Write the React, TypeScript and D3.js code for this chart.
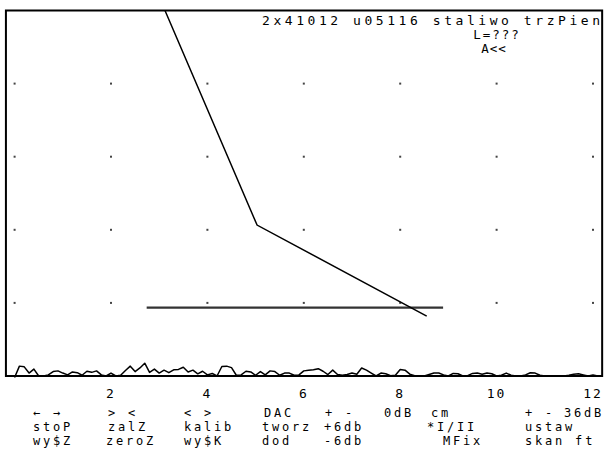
import React, { useEffect, useRef } from "react";
import * as d3 from "d3";

// chart values
const xTicks = [2, 4, 6, 8, 10, 12];
const gridX = [0, 2, 4, 6, 8, 10, 12];
const gridY = [20, 40, 60, 80];
const dacX = [3.12, 5.03, 8.55];
const dacY = [100, 41.3, 16.4];
const gateX = [2.74, 8.89];
const gateY = 18.7;
// echo noise, one sample every 0.1 unit from x = 0
const noise = [
	-0.4, 2.7, 2.5, 0.8, 1.9, 0, 0, 0.3, 1.2, 1.4, 0.8, 0.3, 1.1, 0.9, 0.2, 1.3,
	1.0, 1.4, 0.3, 0, 0.8, 0, 0.2, 1.5, 2.7, 1.2, 2.2, 3.5, 1.0, 1.9, 0.8, 1.6,
	0.9, 1.7, 1.8, 2.4, 1.1, 1.6, 0.6, 1.3, 0.3, 0.7, 0, 2.6, 2.7, 2.3, 0.2, 0.3,
	1.3, 1.1, 0.2, 1.2, 0.3, 1.4, 1.2, 0.2, 0.8, 0.8, 0.2, 0.3, 1.4, 1.6, 1.7,
	2.0, 1.3, 0.4, 1.6, 0.4, 0.2, 0.4, 0.8, 0.5, 2.2, 1.6, 0.8, 0, 0.8, 0.6, 0.1,
	0.2, 1.8, 1.6, 0.5, 0.1, 0, 0, 0.4, 0.8, 0.8, 0.3, 0, 0.7, 0.6, 0, 0.1, 0.7,
	0.8, 0.5, 0.8, 0.6, 0, 0.2, 0.8, 0.2, 0, 0, 0.3, 0.9, 0.8, 0.2, 0, 0, 0, 0.1,
	0, 0.2, 0.5, 0.6, 0.3, 0, 0.3, 0
];
const titleLines = ["2x41012 u05116 staliwo trzPien", "L=???", "A<<"];
// bottom menu: [text, left x, row]
const menuItems: [string, number, number][] = [
	["← →", 33, 0], ["stoP", 33, 1], ["wy$Z", 33, 2],
	["> <", 108, 0], ["zalZ", 108, 1], ["zeroZ", 106, 2],
	["< >", 184, 0], ["kalib", 184, 1], ["wy$K", 184, 2],
	["DAC", 264, 0], ["tworz", 262, 1], ["dod", 262, 2],
	["+ -", 325, 0], ["+6db", 324, 1], ["-6db", 324, 2],
	["0dB", 384, 0], ["cm", 431, 0], ["*I/II", 427, 1], ["MFix", 443, 2],
	["+ -", 525, 0], ["36dB", 564, 0], ["ustaw", 525, 1], ["skan  ft", 525, 2]
];

const W = 611;
const H = 459;
const FONT = "'DejaVu Sans Mono', 'Liberation Mono', monospace";

export default function App() {
	const ref = useRef<SVGSVGElement>(null);

	useEffect(() => {
		const svg = d3.select(ref.current);
		svg.selectAll("*").remove();

		const x = d3.scaleLinear().domain([0, 12]).range([14.6, 593]);
		const y = d3.scaleLinear().domain([0, 100]).range([376, 10.5]);
		const left = x(-0.18);
		const right = x(12.19);

		svg.append("rect").attr("width", W).attr("height", H).attr("fill", "#fff");

		svg.append("clipPath")
			.attr("id", "plotClip")
			.append("rect")
			.attr("x", left)
			.attr("y", y(100))
			.attr("width", right - left)
			.attr("height", y(0) - y(100) + 6);

		//grid dots
		gridY.forEach(gy =>
			svg.append("g")
				.selectAll("rect")
				.data(gridX)
				.join("rect")
				.attr("x", d => x(d) - 1)
				.attr("y", y(gy) - 1)
				.attr("width", 2)
				.attr("height", 2)
				.attr("fill", "#444")
		);

		//gate line
		svg.append("line")
			.attr("x1", x(gateX[0]))
			.attr("x2", x(gateX[1]))
			.attr("y1", y(gateY))
			.attr("y2", y(gateY))
			.attr("stroke", "#333")
			.attr("stroke-width", 2.2);

		//DAC curve
		const lineGen = d3.line<number>()
			.x((d, i) => x(dacX[i]))
			.y(d => y(d));
		svg.append("path")
			.attr("d", lineGen(dacY))
			.attr("clip-path", "url(#plotClip)")
			.attr("fill", "none")
			.attr("stroke", "#000")
			.attr("stroke-width", 1.5);

		//noise trace
		const noiseLine = d3.line<number>()
			.x((d, i) => x(i * 0.1))
			.y(d => y(d));
		svg.append("path")
			.attr("d", noiseLine(noise))
			.attr("fill", "none")
			.attr("stroke", "#000")
			.attr("stroke-width", 1.5)
			.attr("stroke-linejoin", "round");

		//frame
		svg.append("path")
			.attr("d", `M${left},${y(0)}V${y(100)}H${right}V${y(0)}Z`)
			.attr("fill", "none")
			.attr("stroke", "#000")
			.attr("stroke-width", 2);

		//title
		svg.append("text")
			.attr("x", 600)
			.attr("y", 25)
			.attr("text-anchor", "end")
			.attr("textLength", 338)
			.attr("lengthAdjust", "spacing")
			.attr("font-family", FONT)
			.attr("font-size", 13)
			.text(titleLines[0]);
		svg.append("text")
			.attr("x", 497)
			.attr("y", 39)
			.attr("text-anchor", "middle")
			.attr("letter-spacing", 2)
			.attr("font-family", FONT)
			.attr("font-size", 12.5)
			.text(titleLines[1]);
		svg.append("text")
			.attr("x", 494)
			.attr("y", 53)
			.attr("text-anchor", "middle")
			.attr("letter-spacing", 1)
			.attr("font-family", FONT)
			.attr("font-size", 12.5)
			.text(titleLines[2]);

		//x axis labels
		svg.append("g")
			.selectAll("text")
			.data(xTicks)
			.join("text")
			.attr("x", d => x(d))
			.attr("y", 398)
			.attr("text-anchor", "middle")
			.attr("letter-spacing", 2)
			.attr("font-family", FONT)
			.attr("font-size", 13)
			.text(d => d);

		//menu
		svg.append("g")
			.selectAll("text")
			.data(menuItems)
			.join("text")
			.attr("x", d => d[1])
			.attr("y", d => 417 + d[2] * 14)
			.attr("letter-spacing", 2.8)
			.attr("font-family", FONT)
			.attr("font-size", 12)
			.text(d => d[0]);
	}, []);

	return (
		<svg
			ref={ref}
			width={W}
			height={H}
			style={{ position: "absolute", left: 0, top: 0 }}
		/>
	);
}
